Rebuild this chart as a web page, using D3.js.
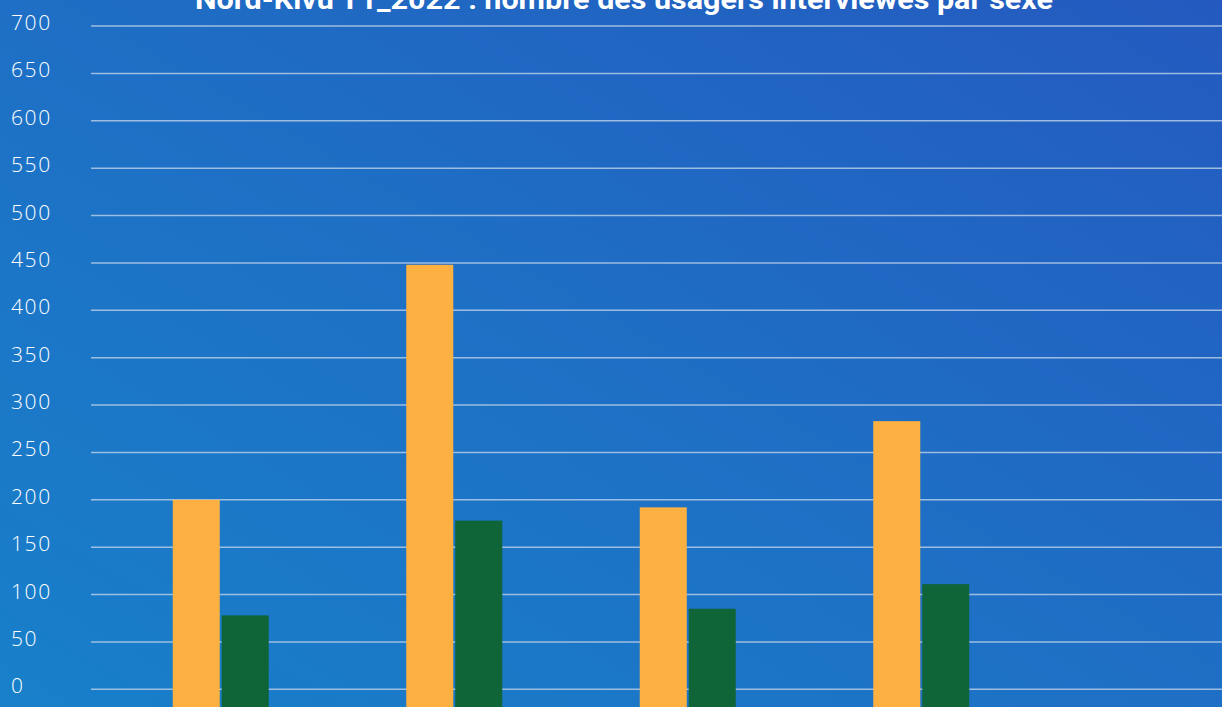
<!DOCTYPE html>
<html><head><meta charset="utf-8">
<script src="https://cdn.jsdelivr.net/npm/d3@7"></script>
<style>html,body{margin:0;padding:0;overflow:hidden;background:#1c74c6}</style>
</head><body>
<svg id="c" width="1222" height="707"></svg>
<script>
const title = "Nord-Kivu T1_2022 : nombre des usagers interviewés par sexe";
const categories = ["Catégorie 1", "Catégorie 2", "Catégorie 3", "Catégorie 4"];
const seriesNames = ["Femmes", "Hommes"];
const femmes = [200, 448, 192, 283];
const hommes = [78, 178, 85, 111];
const yTicks = [0, 50, 100, 150, 200, 250, 300, 350, 400, 450, 500, 550, 600, 650, 700];
const colors = ["#fcb041", "#0f6538"];

const W = 1222, H = 707;
const svg = d3.select("#c");
const defs = svg.append("defs");
const g = defs.append("linearGradient").attr("id","bg")
  .attr("x1","0").attr("y1","1").attr("x2","1").attr("y2","0");
g.append("stop").attr("offset","0").attr("stop-color","#1880ca");
g.append("stop").attr("offset","0.5").attr("stop-color","#1e6fc5");
g.append("stop").attr("offset","1").attr("stop-color","#245abf");
svg.append("rect").attr("width",W).attr("height",H).attr("fill","url(#bg)");

const y = d3.scaleLinear().domain([0,700]).range([689.3, 26]);
const x0 = d3.scaleBand().domain(categories).range([104, 1038]).padding(0);
const x1 = d3.scaleBand().domain(seriesNames).range([0, 96]).paddingInner(0.04);

// gridlines
svg.append("g").selectAll("line").data(yTicks).join("line")
  .attr("x1", 91).attr("x2", W)
  .attr("y1", d => y(d)).attr("y2", d => y(d))
  .attr("stroke", "#b4cbe6").attr("stroke-opacity", 0.85).attr("stroke-width", 1.5);

// y labels
svg.append("g").selectAll("text").data(yTicks).join("text")
  .attr("x", 11).attr("y", d => y(d) + 4)
  .attr("font-family", "'Open Sans', Lato, sans-serif")
  .attr("font-weight", 300)
  .attr("font-size", 21).attr("letter-spacing", 1.6).attr("fill", "#ffffff")
  .text(d => d);

// bars
const data = categories.map((c,i) => ({c, vals:[{s:seriesNames[0], v:femmes[i]},{s:seriesNames[1], v:hommes[i]}]}));
const grp = svg.append("g").selectAll("g").data(data).join("g")
  .attr("transform", d => `translate(${x0(d.c) + x0.bandwidth()/2 - 48},0)`);
grp.selectAll("rect").data(d => d.vals).join("rect")
  .attr("x", d => x1(d.s)).attr("width", x1.bandwidth())
  .attr("y", d => y(d.v)).attr("height", d => H - y(d.v))
  .attr("fill", (d,i) => colors[i]);

// title
svg.append("text").attr("x", 624).attr("y", 9)
  .attr("text-anchor","middle")
  .attr("font-family","Roboto, 'Liberation Sans', sans-serif")
  .attr("font-weight","bold").attr("font-size", 27)
  .attr("textLength", 858).attr("lengthAdjust","spacingAndGlyphs")
  .attr("fill","#ffffff").text(title);
</script>
</body></html>
